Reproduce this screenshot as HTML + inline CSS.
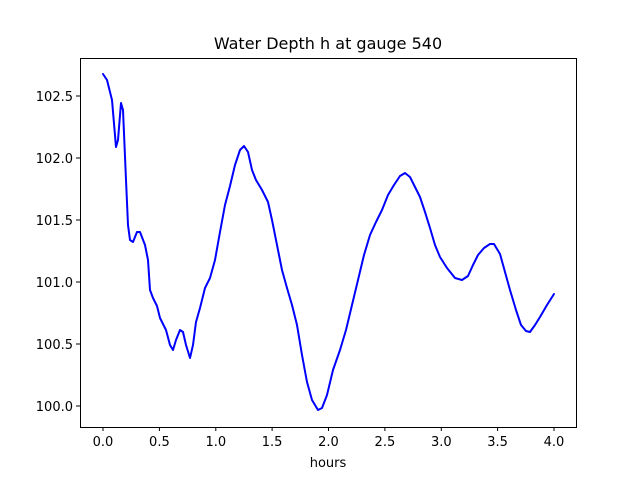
<!DOCTYPE html>
<html><head><meta charset="utf-8"><style>body{margin:0;background:#fff}svg{display:block}text{font-family:"DejaVu Sans","Liberation Sans",sans-serif;font-size:13px;fill:#000}</style></head>
<body>
<svg width="640" height="480" viewBox="0 0 640 480" xmlns="http://www.w3.org/2000/svg">
<rect width="640" height="480" fill="#fff"/>
<text x="328" y="49" text-anchor="middle" style="font-size:16px">Water Depth h at gauge 540</text>
<polyline fill="none" stroke="#0000ff" stroke-width="2" stroke-linejoin="round" stroke-linecap="round" points="103,74 107,80 112,100 116,147 118,140 121,103 123,110 126,180 128,225 130,240 133,242 137,232 140,232 145,245 148,260 150,290 153,298 157,306 160,318 166,330 170,345 173,350 176,340 180,330 183,332 186,345 190,358 193,345 196,322 200,308 205,288 210,278 215,260 220,232 225,205 230,186 235,165 240,150 244,146 248,152 252,170 256,180 262,190 268,202 272,220 277,245 282,270 287,288 292,305 297,325 302,355 307,382 312,400 318,410 322,408 327,395 333,370 340,350 346,330 352,305 358,280 364,255 370,235 376,222 382,210 388,195 394,185 400,176 405,173 410,177 415,187 420,197 425,212 430,228 435,245 440,257 447,268 455,278 462,280 468,276 473,265 478,255 484,248 490,244 494,244 500,254 505,272 510,290 516,310 521,325 526,331 530,332 535,325 540,317 547,305 554,294"/>
<rect x="80.5" y="58.5" width="496" height="369" fill="none" stroke="#000" stroke-width="1"/>
<g stroke="#000">
<line x1="103" y1="427" x2="103" y2="431"/><line x1="159.4" y1="427" x2="159.4" y2="431"/><line x1="215.8" y1="427" x2="215.8" y2="431"/><line x1="272.1" y1="427" x2="272.1" y2="431"/><line x1="328.5" y1="427" x2="328.5" y2="431"/><line x1="384.9" y1="427" x2="384.9" y2="431"/><line x1="441.3" y1="427" x2="441.3" y2="431"/><line x1="497.6" y1="427" x2="497.6" y2="431"/><line x1="554" y1="427" x2="554" y2="431"/>
<line x1="76" y1="406" x2="80" y2="406"/><line x1="76" y1="344" x2="80" y2="344"/><line x1="76" y1="282" x2="80" y2="282"/><line x1="76" y1="220" x2="80" y2="220"/><line x1="76" y1="158" x2="80" y2="158"/><line x1="76" y1="96" x2="80" y2="96"/>
</g>
<g text-anchor="middle">
<text x="103" y="446">0.0</text><text x="159.4" y="446">0.5</text><text x="215.8" y="446">1.0</text><text x="272.1" y="446">1.5</text><text x="328.5" y="446">2.0</text><text x="384.9" y="446">2.5</text><text x="441.3" y="446">3.0</text><text x="497.6" y="446">3.5</text><text x="554" y="446">4.0</text>
<text x="328" y="467">hours</text>
</g>
<g text-anchor="end">
<text x="73" y="411">100.0</text><text x="73" y="349">100.5</text><text x="73" y="287">101.0</text><text x="73" y="225">101.5</text><text x="73" y="163">102.0</text><text x="73" y="101">102.5</text>
</g>
</svg>
</body></html>
